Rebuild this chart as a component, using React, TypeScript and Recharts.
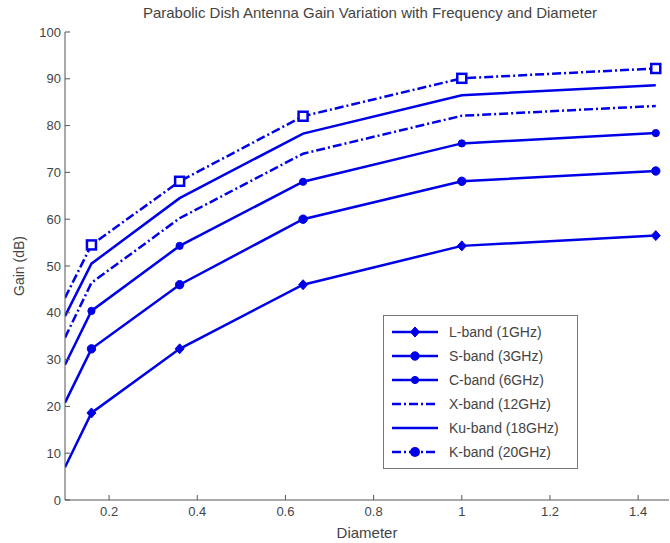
import React from "react";
import { Legend, Line, LineChart, XAxis, YAxis } from "recharts";

const diameters = [0.1, 0.16, 0.36, 0.64, 1.0, 1.44];
const lBand = [7, 18.6, 32.3, 46, 54.3, 56.5];
const sBand = [20.8, 32.3, 46, 60, 68.1, 70.3];
const cBand = [28.9, 40.4, 54.3, 68, 76.2, 78.4];
const xBand = [34.7, 46.4, 60.2, 74, 82.1, 84.2];
const kuBand = [39.3, 50.5, 64.5, 78.3, 86.5, 88.6];
const kBand = [43.2, 54.5, 68.1, 82, 90.1, 92.2];

const xTicks = [0.2, 0.4, 0.6, 0.8, 1, 1.2, 1.4];
const yTicks = [0, 10, 20, 30, 40, 50, 60, 70, 80, 90, 100];

const BLUE = "#0000e8";
const AXIS = "#555";
const TEXT = "#444";
const FONT = "'Liberation Sans', Arial, sans-serif";
const DASHDOT = "9 3 2 3";

type Marker = "diamond" | "circle" | "dot" | "square" | "none";

const series: { key: string; name: string; values: number[]; dash?: string; marker: Marker }[] = [
  { key: "L", name: "L-band (1GHz)", values: lBand, marker: "diamond" },
  { key: "S", name: "S-band (3GHz)", values: sBand, marker: "circle" },
  { key: "C", name: "C-band (6GHz)", values: cBand, marker: "dot" },
  { key: "X", name: "X-band (12GHz)", values: xBand, dash: DASHDOT, marker: "none" },
  { key: "Ku", name: "Ku-band (18GHz)", values: kuBand, marker: "none" },
  { key: "K", name: "K-band (20GHz)", values: kBand, dash: DASHDOT, marker: "square" },
];

const data = diameters.map((d, i) => {
  const row: Record<string, number> = { d };
  series.forEach((s) => (row[s.key] = s.values[i]));
  return row;
});

function drawMarker(type: Marker, cx: number, cy: number, key?: string) {
  switch (type) {
    case "diamond":
      return (
        <polygon
          key={key}
          points={`${cx},${cy - 5} ${cx + 4.5},${cy} ${cx},${cy + 5} ${cx - 4.5},${cy}`}
          fill={BLUE}
          stroke={BLUE}
          strokeWidth={1}
        />
      );
    case "circle":
      return <circle key={key} cx={cx} cy={cy} r={4.2} fill={BLUE} stroke={BLUE} />;
    case "dot":
      return <circle key={key} cx={cx} cy={cy} r={3.6} fill={BLUE} stroke={BLUE} />;
    case "square":
      return (
        <rect key={key} x={cx - 4.5} y={cy - 4.5} width={9} height={9} fill="#fff" stroke={BLUE} strokeWidth={2.5} />
      );
    default:
      return <g key={key} />;
  }
}

function makeDot(type: Marker) {
  return (props: any) => {
    const { cx, cy, index } = props;
    if (index === 0 || type === "none") return <g key={`dot-${index}`} />;
    return drawMarker(type, cx, cy, `dot-${index}`);
  };
}

function LegendBox() {
  return (
    <div
      style={{
        width: 193,
        border: "1px solid #777",
        background: "#fff",
        padding: "4px 0 4px 0",
        fontFamily: FONT,
        fontSize: 14,
        color: TEXT,
      }}
    >
      {series.map((s) => (
        <div key={s.key} style={{ display: "flex", alignItems: "center", height: 24 }}>
          <svg width={60} height={14} style={{ flex: "none" }}>
            <line x1={8} y1={7} x2={54} y2={7} stroke={BLUE} strokeWidth={2.5} strokeDasharray={s.dash} />
            {s.marker === "square" ? (
              <circle cx={31} cy={7} r={5} fill={BLUE} />
            ) : (
              drawMarker(s.marker, 31, 7)
            )}
          </svg>
          <span style={{ marginLeft: 5 }}>{s.name}</span>
        </div>
      ))}
    </div>
  );
}

export default function App() {
  const tickStyle = { fill: TEXT, fontSize: 13, fontFamily: FONT };
  return (
    <div style={{ position: "absolute", left: 0, top: 0, width: 670, height: 543, background: "#fff" }}>
      <div
        style={{
          position: "absolute",
          left: 65,
          width: 610,
          top: 4,
          textAlign: "center",
          fontFamily: FONT,
          fontSize: 15,
          color: TEXT,
        }}
      >
        Parabolic Dish Antenna Gain Variation with Frequency and Diameter
      </div>
      <LineChart width={670} height={543} data={data} margin={{ top: 32, right: 1, bottom: 0, left: 0 }}>
        <XAxis
          dataKey="d"
          type="number"
          domain={[0.1, 1.47]}
          ticks={xTicks}
          allowDataOverflow
          height={43}
          stroke={AXIS}
          tickSize={-5}
          tickMargin={12}
          tick={tickStyle}
          label={{ value: "Diameter", position: "insideBottom", offset: 5, fill: TEXT, fontSize: 15, fontFamily: FONT }}
        />
        <XAxis
          xAxisId="top"
          orientation="top"
          type="number"
          domain={[0.1, 1.47]}
          ticks={xTicks}
          allowDataOverflow
          height={0}
          stroke={AXIS}
          tickSize={-5}
          tickFormatter={() => ""}
        />
        <YAxis
          type="number"
          domain={[0, 100]}
          ticks={yTicks}
          width={65}
          stroke={AXIS}
          tickSize={-5}
          tickMargin={9}
          tick={tickStyle}
          label={{
            content: () => (
              <text
                x={19}
                y={266}
                transform="rotate(-90 19 266)"
                textAnchor="middle"
                dominantBaseline="central"
                fill={TEXT}
                fontSize={14}
                fontFamily={FONT}
              >
                Gain (dB)
              </text>
            ),
          }}
        />
        <YAxis
          yAxisId="right"
          orientation="right"
          type="number"
          domain={[0, 100]}
          ticks={yTicks}
          width={0}
          stroke={AXIS}
          tickSize={-5}
          tickFormatter={() => ""}
        />
        <Legend
          layout="vertical"
          align="center"
          verticalAlign="middle"
          wrapperStyle={{ left: 383, top: 315, width: 195 }}
          content={() => <LegendBox />}
        />
        {series.map((s) => (
          <Line
            key={s.key}
            dataKey={s.key}
            name={s.name}
            type="linear"
            stroke={BLUE}
            strokeWidth={2.5}
            strokeDasharray={s.dash}
            dot={makeDot(s.marker)}
            activeDot={false}
            isAnimationActive={false}
          />
        ))}
      </LineChart>
    </div>
  );
}
